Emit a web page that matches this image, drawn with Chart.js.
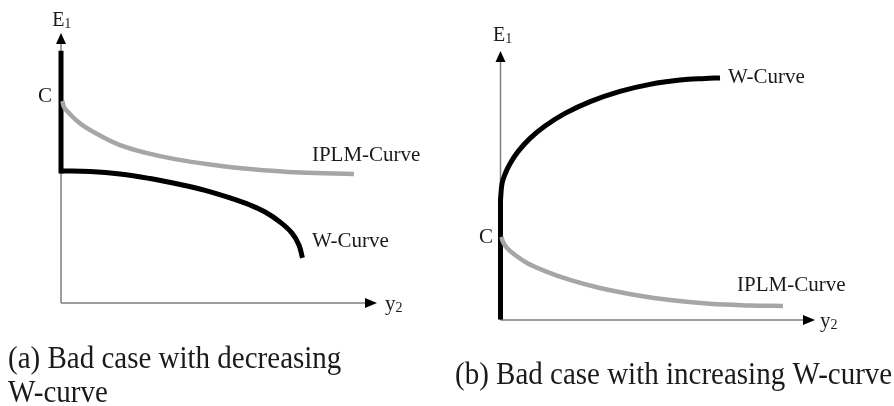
<!DOCTYPE html>
<html>
<head>
<meta charset="utf-8">
<script src="https://cdn.jsdelivr.net/npm/chart.js@4.4.0/dist/chart.umd.min.js"></script>
<style>
  html, body { margin: 0; padding: 0; background: #fff; }
  #wrap { position: relative; width: 894px; height: 406px; overflow: hidden; }
  canvas { position: absolute; top: 0; }
</style>
</head>
<body>
<div id="wrap">
  <canvas id="chartA" width="447" height="406" style="left:0"></canvas>
  <canvas id="chartB" width="447" height="406" style="left:447px"></canvas>
</div>
<script>
// panel (a): decreasing W-curve
const aStemY = [92.5, 48.9];
const aWx = [0, 9.18, 18.67, 28.2, 37.7, 45.6, 53.5, 59.8, 64.6, 69.3, 73.1, 75.3, 76.4];
const aWy = [48.9, 48.7, 47.8, 46.1, 43.9, 41.7, 38.9, 36.3, 33.7, 30.0, 25.9, 21.5, 16.7];
const aIx = [0.47, 0.95, 2.22, 4.43, 7.59, 12.34, 18.67, 26.6, 36.1, 47.2, 59.8, 75.6, 92.7];
const aIy = [74.8, 72.6, 70.7, 68.1, 65.2, 62.0, 58.5, 55.7, 53.3, 51.3, 49.6, 48.3, 47.8];

// panel (b): increasing W-curve
const bStemY = [1.1, 44.6];
const bWx = [0, 0.48, 1.43, 3.02, 5.56, 9.38, 14.15, 20.5, 28.5, 38.0, 47.5, 57.1, 65.1, 69.8];
const bWy = [44.6, 50.7, 54.2, 58.1, 62.6, 67.5, 72.1, 76.8, 81.2, 85.0, 87.6, 89.2, 89.8, 90.0];
const bIx = [0.32, 0.8, 2.07, 4.61, 8.43, 14.15, 22.1, 31.6, 42.8, 53.9, 66.6, 79.3, 89.8];
const bIy = [30.9, 29.0, 26.8, 24.2, 21.2, 18.2, 14.9, 11.9, 9.3, 7.4, 6.0, 5.4, 5.2];

const captionA = ["(a) Bad case with decreasing", "W-curve"];
const captionB = ["(b) Bad case with increasing W-curve"];

const serif = '"Liberation Serif", "Times New Roman", serif';
const ink = '#1a1a1a';

function pts(xs, ys) {
  return xs.map((x, i) => ({ x: x, y: ys[i] }));
}

const sketch = {
  id: 'sketch',
  beforeDatasetsDraw(chart) {
    const ctx = chart.ctx;
    const sx = chart.scales.x, sy = chart.scales.y;
    const ox = sx.getPixelForValue(0), oy = sy.getPixelForValue(0);
    const tx = sx.getPixelForValue(100), ty = sy.getPixelForValue(100);
    ctx.save();
    ctx.strokeStyle = '#7f7f7f';
    ctx.lineWidth = 1.5;
    ctx.beginPath();
    ctx.moveTo(ox, oy); ctx.lineTo(tx - 8, oy);
    ctx.moveTo(ox, oy); ctx.lineTo(ox, ty + 8);
    ctx.stroke();
    ctx.fillStyle = '#000';
    ctx.beginPath();
    ctx.moveTo(tx, oy); ctx.lineTo(tx - 12, oy - 5); ctx.lineTo(tx - 12, oy + 5);
    ctx.closePath(); ctx.fill();
    ctx.beginPath();
    ctx.moveTo(ox, ty); ctx.lineTo(ox - 5, ty + 11); ctx.lineTo(ox + 5, ty + 11);
    ctx.closePath(); ctx.fill();
    ctx.restore();
  },
  afterDraw(chart, args, opts) {
    const ctx = chart.ctx;
    const sx = chart.scales.x, sy = chart.scales.y;
    ctx.save();
    ctx.fillStyle = ink;
    ctx.textBaseline = 'alphabetic';
    ctx.textAlign = 'left';
    (opts.marks || []).forEach(m => {
      const px = sx.getPixelForValue(m.x), py = sy.getPixelForValue(m.y);
      ctx.font = m.size + 'px ' + serif;
      ctx.fillText(m.text, px, py);
      if (m.sub) {
        const w = ctx.measureText(m.text).width;
        ctx.font = Math.round(m.size * 0.68) + 'px ' + serif;
        ctx.fillText(m.sub, px + w, py + 2);
      }
    });
    const cap = opts.caption;
    if (cap) {
      ctx.font = cap.size + 'px ' + serif;
      cap.lines.forEach((t, i) => {
        ctx.save();
        ctx.translate(cap.left, cap.top + i * cap.gap);
        ctx.scale(1, 1.1);
        ctx.fillText(t, 0, 0);
        ctx.restore();
      });
    }
    ctx.restore();
  }
};

function line(data, color, width, smooth) {
  return {
    data: data,
    borderColor: color,
    borderWidth: width,
    pointRadius: 0,
    showLine: true,
    fill: false,
    clip: false,
    capBezierPoints: false,
    borderCapStyle: smooth ? 'butt' : 'square',
    borderJoinStyle: 'round',
    tension: smooth ? 0.4 : 0
  };
}

function panel(id, pad, datasets, marks, caption) {
  return new Chart(document.getElementById(id), {
    type: 'scatter',
    data: { datasets: datasets },
    options: {
      responsive: false,
      animation: false,
      devicePixelRatio: 1,
      layout: { padding: pad },
      scales: {
        x: { type: 'linear', min: 0, max: 100, display: false },
        y: { type: 'linear', min: 0, max: 100, display: false }
      },
      plugins: {
        legend: { display: false },
        tooltip: { enabled: false },
        sketch: { marks: marks, caption: caption }
      }
    },
    plugins: [sketch]
  });
}

panel('chartA', { left: 61, right: 70, top: 33, bottom: 103 }, [
  line(pts(aIx, aIy), '#a6a6a6', 4.5, true),
  line(pts([0, 0], aStemY), '#000', 5, false),
  line(pts(aWx, aWy), '#000', 5, true)
], [
  { text: 'E', sub: '1', x: -2.8, y: 102.6, size: 20 },
  { text: 'C', x: -7.3, y: 74.4, size: 21 },
  { text: 'IPLM-Curve', x: 79.4, y: 52.6, size: 21 },
  { text: 'W-Curve', x: 79.4, y: 20.7, size: 21 },
  { text: 'y', sub: '2', x: 102.5, y: -2.6, size: 21 }
], { lines: captionA, left: 8, top: 368, gap: 34, size: 29 });

panel('chartB', { left: 53.5, right: 79, top: 51, bottom: 86 }, [
  line(pts(bIx, bIy), '#a6a6a6', 4.5, true),
  line(pts([0, 0], bStemY), '#000', 5, false),
  line(pts(bWx, bWy), '#000', 5, true)
], [
  { text: 'E', sub: '1', x: -2.4, y: 103.7, size: 20 },
  { text: 'C', x: -6.8, y: 28.6, size: 21 },
  { text: 'W-Curve', x: 72.3, y: 88.1, size: 21 },
  { text: 'IPLM-Curve', x: 75.2, y: 10.9, size: 21 },
  { text: 'y', sub: '2', x: 101.6, y: -2.6, size: 21 }
], { lines: captionB, left: 8, top: 384, gap: 0, size: 29 });
</script>
</body>
</html>
